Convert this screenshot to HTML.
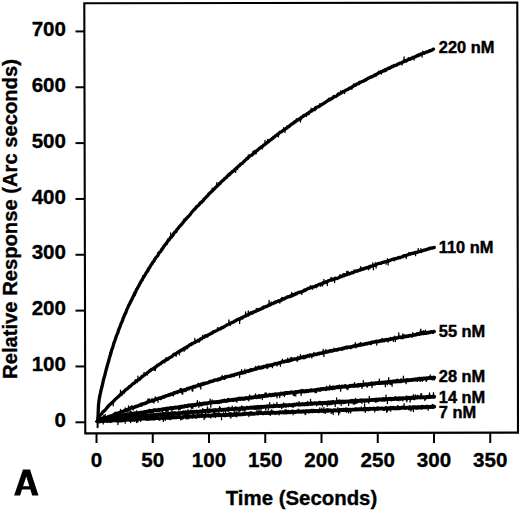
<!DOCTYPE html>
<html><head><meta charset="utf-8"><style>
html,body{margin:0;padding:0;background:#fff;width:520px;height:510px;overflow:hidden}
svg{display:block}
text{font-family:"Liberation Sans",sans-serif;font-weight:bold;fill:#000}
.tk{font-size:20.6px;stroke:#000;stroke-width:0.35px}
.cl{font-size:16.4px;stroke:#000;stroke-width:0.45px}
.ax{font-size:20.4px;stroke:#000;stroke-width:0.35px}
.ay{font-size:20.2px;stroke:#000;stroke-width:0.35px}
</style></head><body>
<svg width="520" height="510" viewBox="0 0 520 510"><rect width="520" height="510" fill="#fff"/><path d="M84.3,3.3L517.3,2.6L518,432.6L85.3,433.4Z" fill="none" stroke="#000" stroke-width="2.1" stroke-linejoin="miter"/><line x1="75.5" y1="422.30" x2="85" y2="422.30" stroke="#000" stroke-width="2"/><text x="66" y="426.90" text-anchor="end" class="tk">0</text><line x1="75.5" y1="366.46" x2="85" y2="366.46" stroke="#000" stroke-width="2"/><text x="66" y="371.06" text-anchor="end" class="tk">100</text><line x1="75.5" y1="310.62" x2="85" y2="310.62" stroke="#000" stroke-width="2"/><text x="66" y="315.22" text-anchor="end" class="tk">200</text><line x1="75.5" y1="254.78" x2="85" y2="254.78" stroke="#000" stroke-width="2"/><text x="66" y="259.38" text-anchor="end" class="tk">300</text><line x1="75.5" y1="198.94" x2="85" y2="198.94" stroke="#000" stroke-width="2"/><text x="66" y="203.54" text-anchor="end" class="tk">400</text><line x1="75.5" y1="143.10" x2="85" y2="143.10" stroke="#000" stroke-width="2"/><text x="66" y="147.70" text-anchor="end" class="tk">500</text><line x1="75.5" y1="87.26" x2="85" y2="87.26" stroke="#000" stroke-width="2"/><text x="66" y="91.86" text-anchor="end" class="tk">600</text><line x1="75.5" y1="31.42" x2="85" y2="31.42" stroke="#000" stroke-width="2"/><text x="66" y="36.02" text-anchor="end" class="tk">700</text><line x1="96.50" y1="433" x2="96.50" y2="443" stroke="#000" stroke-width="2"/><text x="96.50" y="466.5" text-anchor="middle" class="tk">0</text><line x1="152.75" y1="433" x2="152.75" y2="443" stroke="#000" stroke-width="2"/><text x="152.75" y="466.5" text-anchor="middle" class="tk">50</text><line x1="209.00" y1="433" x2="209.00" y2="443" stroke="#000" stroke-width="2"/><text x="209.00" y="466.5" text-anchor="middle" class="tk">100</text><line x1="265.25" y1="433" x2="265.25" y2="443" stroke="#000" stroke-width="2"/><text x="265.25" y="466.5" text-anchor="middle" class="tk">150</text><line x1="321.50" y1="433" x2="321.50" y2="443" stroke="#000" stroke-width="2"/><text x="321.50" y="466.5" text-anchor="middle" class="tk">200</text><line x1="377.75" y1="433" x2="377.75" y2="443" stroke="#000" stroke-width="2"/><text x="377.75" y="466.5" text-anchor="middle" class="tk">250</text><line x1="434.00" y1="433" x2="434.00" y2="443" stroke="#000" stroke-width="2"/><text x="434.00" y="466.5" text-anchor="middle" class="tk">300</text><line x1="490.25" y1="433" x2="490.25" y2="443" stroke="#000" stroke-width="2"/><text x="490.25" y="466.5" text-anchor="middle" class="tk">350</text><path d="M97.8,421.3 L98.5,404.9 L99.1,399.7 L99.8,395.9 L100.5,392.9 L101.1,389.9 L101.8,387.3 L102.5,384.3 L103.1,381.7 L103.8,378.4 L104.5,376.6 L105.2,373.6 L105.8,371.2 L106.5,368.5 L107.2,366.0 L107.8,363.8 L108.5,361.5 L109.2,358.9 L109.8,356.6 L110.5,354.6 L111.2,352.0 L111.8,349.7 L112.5,348.1 L113.2,345.7 L113.8,343.4 L114.5,341.6 L115.2,339.7 L115.9,337.6 L116.5,335.6 L117.2,334.1 L117.9,332.5 L118.5,330.4 L119.2,328.4 L119.9,327.0 L120.5,325.3 L121.2,323.3 L121.9,321.9 L122.5,320.3 L123.2,318.4 L123.9,316.6 L124.5,315.3 L125.2,313.7 L125.9,312.4 L126.6,310.2 L127.2,308.9 L127.9,307.4 L128.6,305.7 L129.2,304.7 L129.9,303.3 L130.6,301.6 L131.2,300.8 L131.9,299.2 L132.6,297.8 L133.2,296.4 L133.9,295.2 L134.6,293.3 L135.2,292.5 L135.9,291.2 L136.6,289.4 L137.3,288.6 L137.9,287.2 L138.6,286.3 L139.3,284.7 L139.9,283.6 L140.6,282.5 L141.3,281.0 L141.9,280.2 L142.6,278.9 L143.3,277.9 L143.9,276.5 L144.6,275.8 L145.3,274.5 L145.9,273.2 L146.6,272.3 L147.3,271.4 L148.0,270.5 L148.6,268.6 L149.3,268.1 L150.0,266.9 L150.6,265.8 L151.3,264.5 L152.0,264.0 L152.6,262.4 L153.3,261.8 L154.0,261.0 L154.6,259.3 L155.3,258.6 L156.0,257.4 L156.6,256.8 L157.3,256.1 L158.0,255.3 L158.7,253.4 L159.3,252.7 L160.0,252.1 L160.7,251.4 L161.3,250.2 L162.0,249.0 L162.7,248.3 L163.3,247.3 L164.0,246.3 L164.7,245.3 L165.3,244.7 L166.0,243.8 L166.7,242.8 L167.3,241.9 L168.0,240.7 L168.7,240.1 L169.4,239.6 L170.0,238.4 L170.7,237.2 L171.4,237.1 L172.0,236.0 L172.7,235.6 L173.4,234.2 L174.0,233.2 L174.7,232.1 L175.4,232.0 L176.0,231.5 L176.7,229.8 L177.4,229.1 L178.0,228.5 L178.7,227.4 L179.4,226.7 L180.1,225.9 L180.7,225.2 L181.4,224.7 L182.1,223.6 L182.7,223.0 L183.4,221.9 L184.1,221.3 L184.7,219.9 L185.4,219.3 L186.1,219.1 L186.7,218.0 L187.4,217.5 L188.1,216.7 L188.7,216.2 L189.4,215.3 L190.1,214.6 L190.8,213.6 L191.4,212.7 L192.1,211.9 L192.8,211.2 L193.4,210.3 L194.1,209.7 L194.8,209.1 L195.4,208.5 L196.1,207.6 L196.8,206.5 L197.4,206.2 L198.1,205.6 L198.8,205.1 L199.4,204.2 L200.1,203.2 L200.8,202.5 L201.5,202.5 L202.1,201.4 L202.8,201.0 L203.5,200.4 L204.1,199.0 L204.8,198.6 L205.5,197.9 L206.1,197.2 L206.8,196.5 L207.5,195.8 L208.1,195.1 L208.8,194.0 L209.5,193.6 L210.1,192.8 L210.8,192.4 L211.5,191.5 L212.2,191.1 L212.8,190.5 L213.5,189.7 L214.2,189.1 L214.8,188.3 L215.5,187.6 L216.2,187.0 L216.8,186.2 L217.5,185.8 L218.2,185.1 L218.8,184.6 L219.5,183.4 L220.2,183.3 L220.8,182.3 L221.5,181.7 L222.2,181.1 L222.9,180.4 L223.5,180.0 L224.2,179.2 L224.9,178.4 L225.5,177.8 L226.2,177.7 L226.9,176.8 L227.5,175.9 L228.2,175.5 L228.9,174.5 L229.5,174.8 L230.2,173.3 L230.9,173.2 L231.5,172.6 L232.2,171.5 L232.9,171.3 L233.6,170.9 L234.2,170.2 L234.9,169.5 L235.6,169.1 L236.2,168.3 L236.9,167.7 L237.6,167.0 L238.2,166.6 L238.9,165.6 L239.6,165.5 L240.2,164.6 L240.9,163.8 L241.6,163.6 L242.2,163.4 L242.9,162.6 L243.6,161.7 L244.3,161.4 L244.9,160.5 L245.6,160.0 L246.3,159.5 L246.9,158.3 L247.6,158.4 L248.3,157.5 L248.9,157.0 L249.6,156.3 L250.3,155.7 L250.9,155.3 L251.6,155.2 L252.3,154.8 L252.9,153.8 L253.6,153.6 L254.3,152.7 L255.0,151.7 L255.6,151.7 L256.3,151.2 L257.0,150.4 L257.6,150.1 L258.3,149.6 L259.0,148.7 L259.6,148.0 L260.3,147.8 L261.0,147.3 L261.6,146.7 L262.3,146.5 L263.0,146.1 L263.6,145.1 L264.3,144.8 L265.0,144.4 L265.6,143.8 L266.3,143.3 L267.0,142.5 L267.7,142.2 L268.3,142.0 L269.0,141.2 L269.7,140.3 L270.3,140.1 L271.0,139.8 L271.7,139.0 L272.3,138.3 L273.0,138.3 L273.7,137.1 L274.3,137.0 L275.0,136.4 L275.7,135.6 L276.3,135.7 L277.0,135.0 L277.7,134.1 L278.4,134.0 L279.0,133.3 L279.7,132.4 L280.4,132.2 L281.0,132.0 L281.7,131.6 L282.4,131.0 L283.0,130.5 L283.7,130.1 L284.4,129.4 L285.0,129.3 L285.7,128.5 L286.4,128.1 L287.0,127.7 L287.7,126.8 L288.4,126.4 L289.1,126.5 L289.7,125.7 L290.4,125.1 L291.1,124.8 L291.7,124.1 L292.4,123.8 L293.1,123.1 L293.7,122.9 L294.4,122.0 L295.1,122.2 L295.7,121.3 L296.4,120.6 L297.1,120.5 L297.7,120.0 L298.4,119.6 L299.1,118.9 L299.8,118.8 L300.4,119.1 L301.1,117.5 L301.8,117.4 L302.4,116.8 L303.1,116.5 L303.8,115.5 L304.4,115.3 L305.1,115.2 L305.8,114.6 L306.4,114.6 L307.1,113.6 L307.8,113.4 L308.4,113.6 L309.1,112.3 L309.8,111.8 L310.5,111.6 L311.1,111.1 L311.8,110.9 L312.5,110.3 L313.1,109.7 L313.8,109.5 L314.5,109.7 L315.1,108.9 L315.8,107.5 L316.5,107.7 L317.1,107.1 L317.8,107.0 L318.5,106.4 L319.1,106.5 L319.8,105.9 L320.5,105.4 L321.2,104.8 L321.8,104.4 L322.5,104.1 L323.2,103.9 L323.8,103.3 L324.5,102.7 L325.2,102.7 L325.8,102.0 L326.5,101.5 L327.2,100.9 L327.8,100.6 L328.5,100.2 L329.2,99.2 L329.8,99.8 L330.5,99.3 L331.2,98.7 L331.9,98.6 L332.5,98.0 L333.2,97.6 L333.9,96.5 L334.5,96.7 L335.2,96.5 L335.9,96.4 L336.5,96.0 L337.2,95.5 L337.9,94.5 L338.5,93.9 L339.2,94.2 L339.9,93.6 L340.5,93.5 L341.2,92.8 L341.9,92.6 L342.6,91.7 L343.2,91.9 L343.9,91.3 L344.6,91.1 L345.2,90.7 L345.9,90.2 L346.6,89.9 L347.2,89.5 L347.9,89.3 L348.6,88.9 L349.2,88.2 L349.9,87.9 L350.6,88.1 L351.2,87.3 L351.9,87.2 L352.6,86.7 L353.3,86.1 L353.9,85.6 L354.6,85.5 L355.3,85.2 L355.9,84.9 L356.6,84.1 L357.3,83.9 L357.9,83.7 L358.6,83.7 L359.3,82.4 L359.9,82.7 L360.6,82.1 L361.3,82.0 L361.9,81.5 L362.6,81.3 L363.3,81.3 L364.0,80.6 L364.6,80.3 L365.3,79.9 L366.0,79.3 L366.6,79.3 L367.3,78.8 L368.0,78.3 L368.6,78.1 L369.3,77.7 L370.0,77.7 L370.6,77.1 L371.3,76.7 L372.0,76.8 L372.6,76.4 L373.3,76.1 L374.0,75.6 L374.7,75.1 L375.3,74.7 L376.0,74.4 L376.7,74.4 L377.3,73.8 L378.0,73.1 L378.7,73.1 L379.3,72.5 L380.0,72.6 L380.7,71.9 L381.3,71.6 L382.0,71.6 L382.7,71.2 L383.3,70.5 L384.0,70.8 L384.7,70.8 L385.4,69.6 L386.0,70.1 L386.7,69.2 L387.4,68.9 L388.0,68.7 L388.7,68.0 L389.4,68.4 L390.0,67.9 L390.7,67.3 L391.4,67.1 L392.0,66.5 L392.7,66.4 L393.4,66.5 L394.0,65.5 L394.7,65.5 L395.4,65.4 L396.1,65.3 L396.7,65.1 L397.4,64.3 L398.1,63.9 L398.7,63.9 L399.4,63.4 L400.1,63.1 L400.7,63.2 L401.4,63.0 L402.1,62.4 L402.7,62.0 L403.4,61.9 L404.1,61.0 L404.7,61.2 L405.4,60.6 L406.1,61.2 L406.8,60.5 L407.4,60.0 L408.1,59.7 L408.8,58.8 L409.4,59.3 L410.1,59.3 L410.8,58.4 L411.4,58.5 L412.1,58.2 L412.8,57.3 L413.4,57.7 L414.1,57.5 L414.8,56.9 L415.4,56.6 L416.1,56.5 L416.8,55.7 L417.5,55.8 L418.1,55.8 L418.8,54.9 L419.5,55.2 L420.1,54.6 L420.8,53.9 L421.5,54.1 L422.1,53.6 L422.8,53.7 L423.5,53.0 L424.1,53.3 L424.8,52.6 L425.5,52.6 L426.1,52.1 L426.8,51.9 L427.5,52.0 L428.2,51.5 L428.8,51.1 L429.5,50.6 L430.2,51.0 L430.8,50.6 L431.5,50.1 L432.2,50.0 L432.8,49.4 L433.5,49.1" fill="none" stroke="#000" stroke-width="3.3" stroke-linejoin="round" stroke-linecap="round"/><path d="M97.8,421.3 L98.5,416.9 L99.1,416.4 L99.8,415.5 L100.5,414.7 L101.1,414.1 L101.8,413.7 L102.5,412.4 L103.2,411.6 L103.8,411.3 L104.5,410.5 L105.2,410.1 L105.8,409.2 L106.5,408.3 L107.2,407.5 L107.8,406.9 L108.5,406.1 L109.2,405.1 L109.8,404.8 L110.5,404.1 L111.2,403.4 L111.8,402.7 L112.5,402.5 L113.2,401.6 L113.9,401.0 L114.5,400.0 L115.2,399.3 L115.9,398.8 L116.5,398.3 L117.2,397.5 L117.9,396.9 L118.5,396.6 L119.2,395.8 L119.9,394.9 L120.5,394.4 L121.2,393.8 L121.9,393.4 L122.6,392.4 L123.2,392.1 L123.9,391.7 L124.6,391.0 L125.2,390.2 L125.9,389.7 L126.6,389.3 L127.2,388.8 L127.9,388.3 L128.6,387.5 L129.2,386.6 L129.9,386.8 L130.6,385.9 L131.2,385.4 L131.9,384.8 L132.6,383.9 L133.3,383.6 L133.9,383.2 L134.6,382.8 L135.3,382.1 L135.9,380.7 L136.6,380.9 L137.3,380.5 L137.9,380.3 L138.6,379.6 L139.3,379.5 L139.9,378.7 L140.6,378.2 L141.3,377.6 L142.0,376.5 L142.6,376.5 L143.3,376.0 L144.0,375.2 L144.6,375.0 L145.3,374.4 L146.0,373.7 L146.6,373.3 L147.3,372.8 L148.0,372.4 L148.6,371.8 L149.3,371.5 L150.0,370.4 L150.6,370.4 L151.3,369.5 L152.0,369.4 L152.7,369.1 L153.3,368.5 L154.0,368.0 L154.7,367.6 L155.3,367.5 L156.0,366.4 L156.7,366.4 L157.3,365.4 L158.0,365.2 L158.7,364.9 L159.3,364.2 L160.0,364.0 L160.7,363.7 L161.4,362.7 L162.0,362.6 L162.7,362.0 L163.4,361.2 L164.0,361.2 L164.7,360.6 L165.4,360.7 L166.0,359.7 L166.7,359.9 L167.4,358.9 L168.0,359.1 L168.7,358.3 L169.4,357.9 L170.1,357.5 L170.7,357.1 L171.4,356.8 L172.1,356.5 L172.7,355.5 L173.4,354.9 L174.1,354.1 L174.7,354.3 L175.4,354.1 L176.1,353.6 L176.7,353.2 L177.4,352.6 L178.1,352.1 L178.7,351.8 L179.4,351.6 L180.1,350.6 L180.8,350.8 L181.4,349.9 L182.1,349.8 L182.8,349.3 L183.4,349.0 L184.1,348.4 L184.8,348.0 L185.4,347.8 L186.1,347.2 L186.8,347.7 L187.4,346.6 L188.1,346.1 L188.8,345.7 L189.5,345.2 L190.1,344.5 L190.8,344.6 L191.5,344.4 L192.1,343.5 L192.8,343.5 L193.5,342.9 L194.1,342.8 L194.8,342.5 L195.5,342.1 L196.1,341.7 L196.8,341.1 L197.5,341.1 L198.1,340.4 L198.8,340.2 L199.5,339.9 L200.2,339.3 L200.8,338.7 L201.5,338.8 L202.2,338.0 L202.8,337.6 L203.5,337.2 L204.2,337.3 L204.8,336.7 L205.5,335.8 L206.2,336.2 L206.8,336.2 L207.5,335.8 L208.2,334.8 L208.9,334.6 L209.5,334.3 L210.2,334.1 L210.9,333.5 L211.5,332.9 L212.2,333.0 L212.9,332.6 L213.5,331.7 L214.2,331.6 L214.9,331.4 L215.5,331.0 L216.2,330.8 L216.9,330.5 L217.5,330.1 L218.2,329.6 L218.9,328.9 L219.6,329.1 L220.2,328.9 L220.9,328.7 L221.6,327.8 L222.2,327.5 L222.9,327.5 L223.6,327.2 L224.2,326.6 L224.9,326.3 L225.6,325.6 L226.2,325.6 L226.9,324.9 L227.6,324.7 L228.3,324.4 L228.9,324.0 L229.6,323.2 L230.3,323.2 L230.9,323.2 L231.6,322.7 L232.3,322.3 L232.9,322.2 L233.6,321.9 L234.3,321.6 L234.9,320.9 L235.6,320.8 L236.3,320.4 L236.9,319.9 L237.6,319.4 L238.3,319.4 L239.0,318.9 L239.6,319.3 L240.3,318.5 L241.0,318.1 L241.6,317.7 L242.3,318.0 L243.0,317.0 L243.6,316.8 L244.3,316.4 L245.0,316.2 L245.6,315.9 L246.3,315.9 L247.0,314.9 L247.7,315.0 L248.3,315.0 L249.0,314.2 L249.7,314.0 L250.3,313.5 L251.0,312.7 L251.7,313.0 L252.3,313.1 L253.0,312.3 L253.7,311.7 L254.3,311.9 L255.0,311.5 L255.7,311.5 L256.3,311.1 L257.0,310.5 L257.7,310.4 L258.4,309.5 L259.0,309.9 L259.7,309.4 L260.4,309.3 L261.0,309.0 L261.7,308.4 L262.4,308.1 L263.0,307.6 L263.7,307.0 L264.4,307.2 L265.0,307.0 L265.7,306.4 L266.4,306.5 L267.1,306.1 L267.7,305.9 L268.4,305.3 L269.1,304.7 L269.7,305.1 L270.4,304.7 L271.1,304.2 L271.7,303.9 L272.4,303.6 L273.1,303.4 L273.7,303.0 L274.4,302.3 L275.1,302.7 L275.8,301.9 L276.4,301.9 L277.1,301.6 L277.8,301.4 L278.4,300.7 L279.1,301.1 L279.8,300.7 L280.4,300.4 L281.1,300.2 L281.8,299.4 L282.4,298.6 L283.1,299.2 L283.8,299.1 L284.4,298.8 L285.1,298.1 L285.8,297.9 L286.5,297.7 L287.1,296.9 L287.8,296.9 L288.5,296.7 L289.1,296.9 L289.8,296.1 L290.5,296.4 L291.1,295.7 L291.8,295.0 L292.5,295.7 L293.1,294.6 L293.8,294.8 L294.5,294.8 L295.2,293.9 L295.8,293.5 L296.5,293.8 L297.2,293.3 L297.8,292.7 L298.5,292.4 L299.2,292.3 L299.8,292.4 L300.5,291.8 L301.2,291.8 L301.8,291.8 L302.5,291.4 L303.2,291.2 L303.8,290.9 L304.5,289.9 L305.2,290.3 L305.9,289.8 L306.5,289.5 L307.2,289.0 L307.9,288.6 L308.5,288.4 L309.2,288.4 L309.9,287.9 L310.5,287.7 L311.2,287.5 L311.9,287.6 L312.5,287.1 L313.2,286.8 L313.9,287.0 L314.6,286.3 L315.2,286.3 L315.9,285.6 L316.6,285.7 L317.2,285.4 L317.9,285.1 L318.6,284.7 L319.2,284.3 L319.9,284.2 L320.6,283.9 L321.2,284.1 L321.9,283.8 L322.6,283.0 L323.2,283.2 L323.9,282.7 L324.6,282.7 L325.3,282.2 L325.9,281.7 L326.6,282.1 L327.3,281.7 L327.9,281.0 L328.6,280.6 L329.3,280.7 L329.9,280.3 L330.6,280.2 L331.3,280.2 L331.9,280.2 L332.6,279.5 L333.3,279.7 L334.0,279.4 L334.6,278.7 L335.3,278.2 L336.0,278.6 L336.6,278.3 L337.3,278.5 L338.0,278.0 L338.6,277.6 L339.3,277.6 L340.0,276.7 L340.6,276.7 L341.3,276.4 L342.0,276.6 L342.6,276.1 L343.3,275.0 L344.0,275.8 L344.7,275.0 L345.3,275.2 L346.0,274.7 L346.7,274.6 L347.3,274.5 L348.0,274.1 L348.7,273.6 L349.3,274.0 L350.0,273.5 L350.7,273.1 L351.3,273.1 L352.0,272.5 L352.7,272.9 L353.4,272.3 L354.0,272.1 L354.7,271.8 L355.4,271.3 L356.0,271.0 L356.7,271.1 L357.4,270.9 L358.0,271.0 L358.7,270.5 L359.4,269.9 L360.0,270.1 L360.7,269.9 L361.4,269.7 L362.0,269.3 L362.7,268.7 L363.4,269.1 L364.1,268.4 L364.7,268.5 L365.4,267.8 L366.1,268.1 L366.7,267.5 L367.4,267.8 L368.1,267.7 L368.7,267.3 L369.4,266.5 L370.1,266.4 L370.7,266.2 L371.4,266.3 L372.1,266.0 L372.8,265.8 L373.4,265.6 L374.1,265.4 L374.8,265.2 L375.4,265.3 L376.1,264.6 L376.8,264.5 L377.4,263.8 L378.1,263.7 L378.8,263.6 L379.4,263.3 L380.1,263.4 L380.8,263.4 L381.5,262.8 L382.1,262.6 L382.8,262.4 L383.5,262.3 L384.1,262.0 L384.8,262.0 L385.5,261.7 L386.1,261.5 L386.8,261.4 L387.5,261.1 L388.1,260.9 L388.8,261.1 L389.5,260.4 L390.1,260.4 L390.8,260.0 L391.5,259.7 L392.2,259.5 L392.8,259.2 L393.5,259.2 L394.2,258.8 L394.8,258.7 L395.5,258.9 L396.2,258.3 L396.8,258.5 L397.5,258.0 L398.2,258.0 L398.8,257.4 L399.5,257.4 L400.2,257.8 L400.9,257.2 L401.5,257.0 L402.2,256.6 L402.9,256.6 L403.5,255.9 L404.2,255.7 L404.9,255.9 L405.5,255.8 L406.2,255.3 L406.9,255.1 L407.5,254.9 L408.2,254.7 L408.9,254.3 L409.5,254.0 L410.2,254.2 L410.9,253.6 L411.6,253.6 L412.2,253.4 L412.9,253.1 L413.6,253.3 L414.2,252.9 L414.9,252.8 L415.6,252.4 L416.2,252.3 L416.9,252.4 L417.6,252.2 L418.2,251.8 L418.9,251.8 L419.6,251.5 L420.3,251.3 L420.9,251.5 L421.6,250.8 L422.3,250.8 L422.9,250.7 L423.6,250.3 L424.3,249.9 L424.9,250.2 L425.6,249.9 L426.3,249.6 L426.9,249.4 L427.6,249.2 L428.3,248.8 L428.9,248.9 L429.6,248.2 L430.3,248.5 L431.0,247.9 L431.6,248.0 L432.3,248.1 L433.0,247.7 L433.6,247.5 L434.3,247.5" fill="none" stroke="#000" stroke-width="3.3" stroke-linejoin="round" stroke-linecap="round"/><path d="M97.8,421.3 L98.5,421.1 L99.1,420.9 L99.8,420.4 L100.5,420.2 L101.1,420.2 L101.8,419.2 L102.5,419.5 L103.2,420.0 L103.8,418.4 L104.5,419.0 L105.2,417.9 L105.8,418.2 L106.5,418.2 L107.2,417.9 L107.8,417.1 L108.5,416.7 L109.2,416.4 L109.8,416.7 L110.5,416.1 L111.2,416.0 L111.8,415.8 L112.5,415.5 L113.2,415.3 L113.9,414.9 L114.5,414.2 L115.2,414.7 L115.9,413.4 L116.5,414.2 L117.2,413.5 L117.9,413.3 L118.5,413.0 L119.2,412.7 L119.9,412.6 L120.5,412.2 L121.2,411.8 L121.9,412.0 L122.5,411.4 L123.2,411.6 L123.9,411.0 L124.6,410.6 L125.2,410.6 L125.9,410.5 L126.6,409.8 L127.2,409.7 L127.9,409.9 L128.6,409.0 L129.2,408.8 L129.9,408.8 L130.6,408.2 L131.2,407.6 L131.9,407.6 L132.6,407.9 L133.2,407.7 L133.9,407.4 L134.6,407.1 L135.3,406.5 L135.9,406.7 L136.6,406.6 L137.3,405.9 L137.9,406.0 L138.6,405.5 L139.3,405.4 L139.9,405.2 L140.6,404.5 L141.3,404.9 L141.9,404.1 L142.6,404.1 L143.3,403.7 L143.9,403.7 L144.6,403.5 L145.3,403.1 L146.0,403.2 L146.6,402.7 L147.3,402.3 L148.0,401.5 L148.6,401.9 L149.3,401.6 L150.0,401.2 L150.6,401.0 L151.3,401.1 L152.0,401.0 L152.6,401.0 L153.3,400.6 L154.0,399.9 L154.6,399.9 L155.3,399.2 L156.0,399.5 L156.7,399.2 L157.3,398.7 L158.0,398.6 L158.7,398.4 L159.3,398.0 L160.0,398.3 L160.7,398.5 L161.3,397.7 L162.0,397.5 L162.7,397.1 L163.3,396.7 L164.0,397.1 L164.7,396.3 L165.3,396.2 L166.0,395.9 L166.7,395.8 L167.4,395.4 L168.0,395.4 L168.7,394.7 L169.4,394.8 L170.0,394.9 L170.7,394.1 L171.4,393.9 L172.0,394.2 L172.7,393.8 L173.4,393.7 L174.0,392.7 L174.7,393.0 L175.4,392.5 L176.0,392.2 L176.7,392.4 L177.4,392.4 L178.1,391.5 L178.7,391.4 L179.4,391.3 L180.1,391.2 L180.7,390.7 L181.4,391.4 L182.1,390.7 L182.7,390.3 L183.4,390.0 L184.1,390.5 L184.7,390.3 L185.4,389.4 L186.1,389.4 L186.7,389.4 L187.4,388.6 L188.1,388.5 L188.8,388.8 L189.4,388.1 L190.1,387.9 L190.8,387.5 L191.4,387.4 L192.1,387.6 L192.8,387.0 L193.4,386.6 L194.1,386.6 L194.8,387.0 L195.4,386.4 L196.1,386.0 L196.8,385.9 L197.4,385.8 L198.1,385.5 L198.8,384.8 L199.5,385.2 L200.1,384.8 L200.8,384.9 L201.5,384.1 L202.1,384.5 L202.8,383.9 L203.5,383.4 L204.1,384.0 L204.8,383.3 L205.5,383.3 L206.1,383.0 L206.8,383.1 L207.5,382.9 L208.1,382.7 L208.8,382.4 L209.5,381.6 L210.2,381.4 L210.8,381.7 L211.5,381.2 L212.2,381.3 L212.8,381.1 L213.5,380.5 L214.2,380.4 L214.8,380.1 L215.5,380.0 L216.2,380.0 L216.8,380.0 L217.5,380.0 L218.2,379.2 L218.9,379.1 L219.5,379.4 L220.2,379.1 L220.9,378.7 L221.5,377.9 L222.2,378.0 L222.9,378.1 L223.5,377.7 L224.2,378.2 L224.9,377.5 L225.5,377.4 L226.2,376.8 L226.9,376.6 L227.5,376.5 L228.2,376.4 L228.9,376.3 L229.6,376.2 L230.2,376.0 L230.9,376.0 L231.6,375.2 L232.2,375.4 L232.9,375.3 L233.6,375.4 L234.2,374.8 L234.9,374.7 L235.6,374.2 L236.2,374.4 L236.9,374.2 L237.6,373.7 L238.2,373.6 L238.9,373.5 L239.6,373.5 L240.3,372.9 L240.9,373.2 L241.6,372.7 L242.3,373.1 L242.9,372.8 L243.6,372.1 L244.3,371.9 L244.9,372.5 L245.6,371.8 L246.3,371.6 L246.9,371.2 L247.6,371.1 L248.3,371.2 L248.9,370.9 L249.6,370.4 L250.3,370.7 L251.0,370.3 L251.6,369.8 L252.3,370.1 L253.0,369.6 L253.6,369.7 L254.3,369.2 L255.0,369.2 L255.6,368.6 L256.3,368.9 L257.0,368.2 L257.6,368.5 L258.3,367.6 L259.0,368.1 L259.6,368.1 L260.3,367.9 L261.0,367.9 L261.7,367.1 L262.3,367.6 L263.0,367.5 L263.7,366.6 L264.3,366.5 L265.0,366.4 L265.7,366.4 L266.3,366.2 L267.0,365.4 L267.7,366.0 L268.3,365.6 L269.0,365.2 L269.7,365.6 L270.3,365.1 L271.0,365.3 L271.7,365.0 L272.4,364.6 L273.0,364.8 L273.7,364.5 L274.4,364.0 L275.0,363.6 L275.7,363.7 L276.4,363.8 L277.0,363.4 L277.7,363.7 L278.4,363.2 L279.0,363.0 L279.7,362.9 L280.4,362.4 L281.0,362.4 L281.7,362.1 L282.4,361.6 L283.1,361.5 L283.7,362.0 L284.4,361.5 L285.1,361.5 L285.7,361.0 L286.4,361.0 L287.1,361.2 L287.7,360.9 L288.4,360.5 L289.1,360.9 L289.7,360.3 L290.4,360.1 L291.1,360.3 L291.7,359.4 L292.4,359.8 L293.1,359.3 L293.8,359.2 L294.4,359.1 L295.1,359.1 L295.8,358.9 L296.4,358.8 L297.1,358.6 L297.8,358.8 L298.4,358.7 L299.1,358.3 L299.8,358.2 L300.4,357.7 L301.1,357.4 L301.8,357.6 L302.4,357.3 L303.1,357.4 L303.8,356.6 L304.5,357.5 L305.1,356.4 L305.8,356.6 L306.5,356.7 L307.1,355.9 L307.8,356.0 L308.5,355.4 L309.1,355.4 L309.8,355.1 L310.5,355.5 L311.1,355.4 L311.8,355.1 L312.5,355.3 L313.1,355.2 L313.8,354.7 L314.5,354.5 L315.2,354.4 L315.8,354.2 L316.5,354.5 L317.2,354.0 L317.8,353.7 L318.5,353.6 L319.2,353.7 L319.8,353.3 L320.5,353.3 L321.2,353.1 L321.8,353.3 L322.5,353.1 L323.2,352.3 L323.9,352.4 L324.5,352.5 L325.2,352.1 L325.9,352.3 L326.5,352.0 L327.2,351.9 L327.9,351.6 L328.5,351.5 L329.2,351.5 L329.9,350.8 L330.5,350.8 L331.2,350.6 L331.9,351.2 L332.5,350.7 L333.2,350.6 L333.9,350.4 L334.6,350.0 L335.2,349.8 L335.9,350.1 L336.6,349.7 L337.2,350.0 L337.9,349.5 L338.6,349.3 L339.2,349.1 L339.9,349.0 L340.6,348.9 L341.2,349.1 L341.9,349.2 L342.6,348.2 L343.2,348.4 L343.9,348.4 L344.6,347.8 L345.3,347.8 L345.9,347.7 L346.6,347.0 L347.3,347.7 L347.9,347.4 L348.6,347.2 L349.3,347.1 L349.9,347.0 L350.6,347.4 L351.3,346.7 L351.9,346.8 L352.6,346.3 L353.3,346.4 L353.9,346.1 L354.6,346.0 L355.3,345.6 L356.0,345.5 L356.6,345.7 L357.3,345.7 L358.0,345.4 L358.6,345.0 L359.3,345.1 L360.0,344.3 L360.6,345.0 L361.3,344.7 L362.0,344.6 L362.6,344.7 L363.3,344.2 L364.0,344.4 L364.6,343.9 L365.3,344.0 L366.0,343.6 L366.7,343.7 L367.3,343.8 L368.0,343.2 L368.7,343.1 L369.3,343.0 L370.0,343.0 L370.7,343.5 L371.3,342.6 L372.0,342.1 L372.7,342.3 L373.3,341.9 L374.0,342.1 L374.7,342.1 L375.3,341.7 L376.0,341.6 L376.7,341.2 L377.4,341.6 L378.0,341.2 L378.7,341.6 L379.4,341.4 L380.0,340.8 L380.7,340.8 L381.4,340.8 L382.0,340.9 L382.7,340.1 L383.4,340.4 L384.0,340.8 L384.7,340.1 L385.4,340.1 L386.0,339.9 L386.7,339.5 L387.4,339.9 L388.1,339.6 L388.7,339.5 L389.4,339.5 L390.1,339.4 L390.7,338.6 L391.4,339.1 L392.1,338.7 L392.7,338.7 L393.4,338.4 L394.1,338.2 L394.7,338.6 L395.4,338.2 L396.1,338.0 L396.7,337.9 L397.4,337.9 L398.1,337.7 L398.8,337.0 L399.4,337.3 L400.1,337.3 L400.8,337.4 L401.4,337.5 L402.1,336.8 L402.8,337.4 L403.4,336.8 L404.1,336.8 L404.8,336.4 L405.4,336.3 L406.1,336.7 L406.8,336.1 L407.4,336.1 L408.1,336.3 L408.8,336.3 L409.5,335.4 L410.1,335.6 L410.8,335.5 L411.5,335.8 L412.1,335.9 L412.8,335.1 L413.5,335.1 L414.1,335.1 L414.8,335.1 L415.5,334.6 L416.1,334.8 L416.8,334.3 L417.5,333.7 L418.1,333.9 L418.8,334.2 L419.5,334.2 L420.2,333.3 L420.8,333.3 L421.5,333.7 L422.2,332.7 L422.8,333.6 L423.5,333.6 L424.2,332.5 L424.8,333.3 L425.5,333.0 L426.2,333.3 L426.8,332.9 L427.5,332.6 L428.2,332.6 L428.8,332.7 L429.5,332.4 L430.2,332.2 L430.9,331.8 L431.5,332.1 L432.2,331.9 L432.9,332.3 L433.5,331.7 L434.2,331.6" fill="none" stroke="#000" stroke-width="3.5" stroke-linejoin="round" stroke-linecap="round"/><path d="M97.8,421.3 L98.5,420.0 L99.1,419.9 L99.8,419.5 L100.5,419.1 L101.1,418.5 L101.8,418.7 L102.5,418.6 L103.2,418.2 L103.8,417.8 L104.5,418.7 L105.2,418.3 L105.8,417.9 L106.5,418.3 L107.2,418.1 L107.8,417.8 L108.5,417.7 L109.2,417.7 L109.8,417.8 L110.5,417.3 L111.2,417.1 L111.8,417.2 L112.5,416.3 L113.2,416.9 L113.9,416.7 L114.5,416.7 L115.2,416.5 L115.9,416.5 L116.5,416.4 L117.2,416.3 L117.9,416.1 L118.5,416.2 L119.2,415.8 L119.9,416.1 L120.5,415.3 L121.2,415.7 L121.9,415.6 L122.5,415.1 L123.2,415.2 L123.9,415.5 L124.6,415.1 L125.2,414.8 L125.9,414.2 L126.6,414.9 L127.2,414.7 L127.9,414.8 L128.6,415.0 L129.2,414.4 L129.9,414.3 L130.6,414.0 L131.2,414.1 L131.9,414.0 L132.6,414.1 L133.2,413.9 L133.9,413.5 L134.6,413.5 L135.3,413.8 L135.9,413.1 L136.6,413.5 L137.3,413.6 L137.9,413.2 L138.6,413.0 L139.3,413.2 L139.9,412.9 L140.6,412.7 L141.3,412.5 L141.9,412.8 L142.6,412.6 L143.3,412.7 L143.9,412.1 L144.6,412.0 L145.3,411.9 L146.0,412.0 L146.6,411.6 L147.3,411.9 L148.0,411.7 L148.6,411.2 L149.3,410.7 L150.0,410.8 L150.6,411.6 L151.3,411.1 L152.0,411.0 L152.6,410.8 L153.3,410.9 L154.0,410.2 L154.6,410.1 L155.3,410.1 L156.0,410.4 L156.7,410.5 L157.3,410.3 L158.0,410.1 L158.7,409.7 L159.3,410.1 L160.0,409.8 L160.7,409.7 L161.3,409.6 L162.0,409.4 L162.7,409.3 L163.3,409.2 L164.0,408.9 L164.7,409.2 L165.3,409.0 L166.0,409.2 L166.7,408.4 L167.4,409.1 L168.0,408.7 L168.7,408.5 L169.4,408.3 L170.0,408.2 L170.7,407.9 L171.4,408.4 L172.0,408.0 L172.7,408.2 L173.4,408.1 L174.0,407.7 L174.7,407.7 L175.4,407.5 L176.0,407.8 L176.7,407.5 L177.4,407.4 L178.1,407.4 L178.7,407.1 L179.4,407.6 L180.1,406.7 L180.7,407.2 L181.4,407.1 L182.1,406.4 L182.7,406.8 L183.4,406.6 L184.1,406.6 L184.7,406.0 L185.4,406.3 L186.1,405.9 L186.7,406.0 L187.4,406.3 L188.1,405.8 L188.8,405.2 L189.4,405.3 L190.1,405.3 L190.8,405.7 L191.4,405.2 L192.1,404.9 L192.8,405.5 L193.4,405.2 L194.1,405.1 L194.8,404.7 L195.4,405.2 L196.1,404.7 L196.8,404.2 L197.4,404.3 L198.1,404.3 L198.8,404.3 L199.5,404.5 L200.1,404.0 L200.8,404.0 L201.5,404.6 L202.1,403.9 L202.8,403.7 L203.5,403.8 L204.1,403.3 L204.8,403.7 L205.5,403.7 L206.1,403.2 L206.8,403.5 L207.5,403.1 L208.1,403.2 L208.8,402.8 L209.5,402.7 L210.2,402.5 L210.8,402.8 L211.5,402.6 L212.2,402.5 L212.8,402.2 L213.5,402.1 L214.2,402.2 L214.8,402.3 L215.5,402.2 L216.2,401.9 L216.8,402.0 L217.5,402.3 L218.2,401.8 L218.9,402.2 L219.5,401.7 L220.2,401.8 L220.9,401.3 L221.5,401.6 L222.2,401.0 L222.9,401.2 L223.5,401.0 L224.2,400.5 L224.9,400.6 L225.5,401.1 L226.2,400.8 L226.9,401.0 L227.5,400.6 L228.2,399.7 L228.9,400.4 L229.6,400.1 L230.2,400.1 L230.9,400.0 L231.6,399.8 L232.2,399.7 L232.9,400.2 L233.6,399.9 L234.2,399.5 L234.9,399.5 L235.6,399.8 L236.2,399.5 L236.9,399.4 L237.6,399.0 L238.2,399.1 L238.9,398.8 L239.6,398.5 L240.3,399.1 L240.9,398.7 L241.6,398.6 L242.3,398.4 L242.9,398.8 L243.6,399.0 L244.3,398.6 L244.9,398.6 L245.6,397.9 L246.3,398.2 L246.9,398.1 L247.6,398.4 L248.3,397.9 L248.9,397.6 L249.6,397.7 L250.3,397.5 L251.0,397.9 L251.6,397.6 L252.3,397.5 L253.0,397.4 L253.6,397.4 L254.3,397.0 L255.0,396.8 L255.6,396.5 L256.3,397.2 L257.0,396.9 L257.6,396.9 L258.3,396.7 L259.0,397.0 L259.6,396.2 L260.3,396.7 L261.0,396.1 L261.7,396.1 L262.3,395.8 L263.0,396.1 L263.7,395.9 L264.3,396.0 L265.0,395.7 L265.7,395.4 L266.3,395.8 L267.0,395.9 L267.7,395.7 L268.3,395.4 L269.0,395.4 L269.7,394.8 L270.3,395.1 L271.0,395.4 L271.7,395.1 L272.4,394.7 L273.0,395.1 L273.7,394.7 L274.4,394.9 L275.0,394.2 L275.7,394.4 L276.4,394.5 L277.0,394.4 L277.7,394.4 L278.4,394.2 L279.0,394.1 L279.7,394.2 L280.4,394.2 L281.0,393.5 L281.7,393.7 L282.4,393.7 L283.1,393.7 L283.7,393.8 L284.4,393.1 L285.1,393.5 L285.7,392.9 L286.4,393.1 L287.1,393.0 L287.7,393.0 L288.4,392.8 L289.1,392.8 L289.7,392.8 L290.4,392.7 L291.1,392.2 L291.7,392.3 L292.4,392.4 L293.1,392.6 L293.8,392.6 L294.4,393.0 L295.1,392.2 L295.8,391.9 L296.4,392.1 L297.1,392.2 L297.8,391.9 L298.4,391.6 L299.1,391.7 L299.8,391.7 L300.4,391.2 L301.1,391.2 L301.8,391.7 L302.4,390.8 L303.1,391.3 L303.8,391.1 L304.5,391.5 L305.1,391.2 L305.8,390.8 L306.5,391.2 L307.1,390.7 L307.8,391.2 L308.5,391.1 L309.1,390.6 L309.8,390.7 L310.5,390.5 L311.1,390.1 L311.8,390.6 L312.5,390.3 L313.1,390.4 L313.8,390.3 L314.5,390.3 L315.2,390.2 L315.8,389.8 L316.5,389.8 L317.2,389.8 L317.8,389.6 L318.5,389.5 L319.2,389.9 L319.8,389.5 L320.5,389.8 L321.2,389.0 L321.8,389.2 L322.5,389.0 L323.2,388.9 L323.9,388.9 L324.5,388.8 L325.2,388.7 L325.9,389.2 L326.5,388.8 L327.2,388.4 L327.9,388.4 L328.5,388.6 L329.2,388.5 L329.9,388.1 L330.5,388.4 L331.2,387.8 L331.9,387.9 L332.5,388.4 L333.2,387.3 L333.9,387.8 L334.6,388.0 L335.2,387.6 L335.9,387.4 L336.6,387.3 L337.2,386.9 L337.9,387.1 L338.6,387.3 L339.2,387.1 L339.9,387.2 L340.6,387.1 L341.2,387.1 L341.9,386.5 L342.6,386.8 L343.2,386.7 L343.9,386.7 L344.6,386.4 L345.3,386.0 L345.9,386.7 L346.6,386.6 L347.3,387.0 L347.9,386.5 L348.6,386.6 L349.3,386.3 L349.9,386.0 L350.6,386.1 L351.3,385.7 L351.9,385.9 L352.6,385.8 L353.3,385.5 L353.9,386.0 L354.6,385.9 L355.3,385.6 L356.0,385.6 L356.6,385.8 L357.3,385.3 L358.0,384.9 L358.6,384.9 L359.3,385.3 L360.0,385.1 L360.6,384.6 L361.3,385.2 L362.0,384.9 L362.6,385.1 L363.3,385.0 L364.0,384.5 L364.6,384.6 L365.3,384.3 L366.0,384.2 L366.7,384.2 L367.3,384.4 L368.0,384.5 L368.7,383.9 L369.3,384.2 L370.0,384.0 L370.7,383.9 L371.3,384.1 L372.0,383.7 L372.7,384.0 L373.3,383.6 L374.0,383.3 L374.7,383.7 L375.3,383.1 L376.0,383.1 L376.7,383.2 L377.4,383.2 L378.0,383.1 L378.7,382.6 L379.4,382.7 L380.0,383.1 L380.7,383.0 L381.4,382.6 L382.0,382.8 L382.7,382.7 L383.4,382.9 L384.0,382.4 L384.7,382.8 L385.4,382.3 L386.0,382.7 L386.7,382.5 L387.4,382.0 L388.1,382.1 L388.7,382.1 L389.4,382.3 L390.1,381.6 L390.7,381.7 L391.4,382.0 L392.1,381.9 L392.7,381.4 L393.4,381.4 L394.1,381.6 L394.7,381.2 L395.4,381.5 L396.1,381.6 L396.7,381.3 L397.4,380.5 L398.1,381.4 L398.8,381.4 L399.4,381.4 L400.1,381.2 L400.8,380.5 L401.4,381.2 L402.1,380.8 L402.8,380.9 L403.4,380.6 L404.1,380.5 L404.8,380.4 L405.4,380.8 L406.1,380.4 L406.8,380.2 L407.4,379.9 L408.1,380.3 L408.8,380.1 L409.5,380.1 L410.1,380.2 L410.8,380.1 L411.5,379.8 L412.1,379.8 L412.8,379.7 L413.5,379.8 L414.1,379.7 L414.8,379.5 L415.5,379.2 L416.1,379.6 L416.8,379.5 L417.5,379.0 L418.1,379.3 L418.8,379.0 L419.5,378.5 L420.2,379.0 L420.8,379.2 L421.5,378.7 L422.2,378.6 L422.8,379.0 L423.5,378.4 L424.2,378.4 L424.8,378.5 L425.5,378.6 L426.2,378.6 L426.8,378.2 L427.5,378.2 L428.2,378.2 L428.8,378.1 L429.5,377.9 L430.2,377.8 L430.9,378.1 L431.5,377.8 L432.2,378.6 L432.9,377.9 L433.5,377.5 L434.2,377.7" fill="none" stroke="#000" stroke-width="3.8" stroke-linejoin="round" stroke-linecap="round"/><path d="M97.8,421.3 L98.5,420.4 L99.1,419.8 L99.8,419.9 L100.5,420.0 L101.1,419.9 L101.8,419.4 L102.5,419.9 L103.2,419.8 L103.8,419.6 L104.5,419.2 L105.2,419.0 L105.8,419.4 L106.5,419.0 L107.2,418.9 L107.8,419.4 L108.5,419.3 L109.2,419.2 L109.8,419.3 L110.5,419.1 L111.2,418.6 L111.8,419.1 L112.5,418.8 L113.2,418.8 L113.9,419.0 L114.5,418.7 L115.2,418.9 L115.9,418.4 L116.5,418.3 L117.2,418.1 L117.9,418.2 L118.5,417.8 L119.2,418.1 L119.9,418.0 L120.5,417.9 L121.2,417.4 L121.9,417.4 L122.5,418.0 L123.2,417.5 L123.9,418.1 L124.6,417.5 L125.2,417.7 L125.9,417.2 L126.6,417.3 L127.2,417.4 L127.9,417.5 L128.6,417.7 L129.2,417.5 L129.9,416.8 L130.6,417.1 L131.2,417.0 L131.9,416.8 L132.6,417.1 L133.2,417.3 L133.9,416.7 L134.6,417.1 L135.3,417.1 L135.9,416.4 L136.6,417.0 L137.3,417.0 L137.9,416.6 L138.6,416.9 L139.3,416.4 L139.9,416.6 L140.6,416.4 L141.3,416.0 L141.9,416.2 L142.6,416.0 L143.3,415.9 L143.9,415.7 L144.6,415.7 L145.3,415.5 L146.0,416.1 L146.6,415.3 L147.3,415.7 L148.0,415.5 L148.6,415.3 L149.3,415.7 L150.0,415.3 L150.6,415.7 L151.3,415.3 L152.0,415.4 L152.6,415.2 L153.3,415.3 L154.0,415.4 L154.6,415.0 L155.3,415.0 L156.0,415.4 L156.7,414.8 L157.3,415.3 L158.0,414.7 L158.7,414.6 L159.3,414.3 L160.0,414.4 L160.7,414.1 L161.3,414.4 L162.0,414.6 L162.7,414.4 L163.3,414.2 L164.0,414.0 L164.7,414.1 L165.3,413.8 L166.0,413.8 L166.7,414.6 L167.4,414.1 L168.0,413.7 L168.7,414.1 L169.4,414.2 L170.0,413.6 L170.7,413.7 L171.4,413.4 L172.0,413.2 L172.7,413.9 L173.4,414.4 L174.0,413.3 L174.7,413.0 L175.4,413.7 L176.0,413.6 L176.7,413.4 L177.4,413.6 L178.1,413.1 L178.7,413.2 L179.4,413.2 L180.1,412.9 L180.7,413.1 L181.4,412.8 L182.1,413.0 L182.7,412.8 L183.4,412.2 L184.1,412.7 L184.7,412.3 L185.4,412.4 L186.1,412.1 L186.7,412.7 L187.4,412.3 L188.1,412.3 L188.8,412.6 L189.4,412.4 L190.1,412.2 L190.8,411.6 L191.4,412.3 L192.1,412.0 L192.8,411.9 L193.4,412.1 L194.1,411.7 L194.8,411.8 L195.4,412.0 L196.1,411.9 L196.8,411.5 L197.4,412.0 L198.1,411.9 L198.8,412.0 L199.5,411.5 L200.1,411.5 L200.8,411.6 L201.5,411.4 L202.1,411.3 L202.8,411.2 L203.5,411.1 L204.1,411.0 L204.8,410.9 L205.5,411.1 L206.1,410.9 L206.8,410.6 L207.5,410.9 L208.1,411.2 L208.8,411.1 L209.5,410.2 L210.2,410.5 L210.8,410.8 L211.5,410.6 L212.2,410.5 L212.8,410.4 L213.5,410.4 L214.2,410.1 L214.8,410.6 L215.5,410.0 L216.2,410.2 L216.8,410.6 L217.5,410.4 L218.2,410.1 L218.9,410.0 L219.5,409.8 L220.2,409.8 L220.9,409.8 L221.5,410.2 L222.2,409.7 L222.9,409.9 L223.5,409.8 L224.2,409.7 L224.9,409.5 L225.5,409.7 L226.2,409.5 L226.9,409.5 L227.5,409.3 L228.2,408.8 L228.9,409.5 L229.6,409.4 L230.2,409.1 L230.9,409.1 L231.6,409.2 L232.2,408.8 L232.9,409.2 L233.6,409.1 L234.2,409.1 L234.9,409.1 L235.6,408.3 L236.2,408.9 L236.9,408.6 L237.6,408.9 L238.2,408.9 L238.9,408.8 L239.6,408.5 L240.3,409.2 L240.9,408.4 L241.6,408.1 L242.3,408.6 L242.9,407.9 L243.6,408.7 L244.3,408.4 L244.9,408.5 L245.6,408.4 L246.3,408.2 L246.9,407.7 L247.6,407.8 L248.3,408.1 L248.9,407.8 L249.6,407.9 L250.3,407.6 L251.0,407.5 L251.6,407.8 L252.3,407.8 L253.0,407.6 L253.6,407.3 L254.3,407.1 L255.0,408.0 L255.6,407.1 L256.3,407.1 L257.0,407.1 L257.6,407.5 L258.3,407.0 L259.0,407.3 L259.6,407.2 L260.3,406.8 L261.0,407.1 L261.7,406.7 L262.3,406.9 L263.0,407.1 L263.7,406.8 L264.3,406.6 L265.0,406.7 L265.7,406.7 L266.3,406.7 L267.0,406.1 L267.7,406.1 L268.3,406.6 L269.0,406.5 L269.7,406.4 L270.3,406.4 L271.0,406.3 L271.7,406.2 L272.4,406.3 L273.0,406.4 L273.7,406.2 L274.4,406.1 L275.0,405.8 L275.7,406.1 L276.4,405.7 L277.0,405.8 L277.7,405.9 L278.4,405.9 L279.0,406.1 L279.7,406.0 L280.4,405.8 L281.0,405.6 L281.7,405.6 L282.4,405.5 L283.1,406.0 L283.7,405.6 L284.4,405.3 L285.1,405.2 L285.7,405.7 L286.4,405.1 L287.1,405.4 L287.7,405.3 L288.4,405.5 L289.1,404.9 L289.7,405.2 L290.4,405.1 L291.1,405.2 L291.7,405.3 L292.4,405.0 L293.1,404.8 L293.8,405.1 L294.4,404.4 L295.1,404.8 L295.8,404.5 L296.4,404.4 L297.1,404.2 L297.8,404.2 L298.4,404.7 L299.1,404.7 L299.8,404.5 L300.4,404.7 L301.1,404.4 L301.8,404.2 L302.4,404.0 L303.1,404.4 L303.8,404.4 L304.5,404.5 L305.1,403.9 L305.8,404.0 L306.5,403.7 L307.1,404.3 L307.8,404.1 L308.5,404.0 L309.1,403.9 L309.8,403.8 L310.5,403.7 L311.1,404.0 L311.8,403.5 L312.5,403.9 L313.1,403.7 L313.8,403.3 L314.5,403.2 L315.2,403.3 L315.8,403.4 L316.5,403.1 L317.2,403.5 L317.8,403.6 L318.5,403.4 L319.2,402.8 L319.8,402.6 L320.5,403.4 L321.2,403.5 L321.8,403.0 L322.5,403.1 L323.2,402.9 L323.9,402.8 L324.5,403.1 L325.2,402.7 L325.9,403.0 L326.5,403.2 L327.2,402.7 L327.9,403.2 L328.5,402.3 L329.2,402.8 L329.9,402.6 L330.5,403.2 L331.2,402.5 L331.9,402.2 L332.5,402.8 L333.2,402.0 L333.9,402.4 L334.6,402.1 L335.2,402.6 L335.9,402.2 L336.6,402.4 L337.2,402.1 L337.9,401.8 L338.6,401.5 L339.2,402.4 L339.9,402.0 L340.6,401.6 L341.2,401.8 L341.9,402.1 L342.6,401.4 L343.2,402.3 L343.9,401.7 L344.6,401.6 L345.3,402.0 L345.9,401.6 L346.6,401.3 L347.3,401.7 L347.9,401.6 L348.6,401.7 L349.3,401.2 L349.9,401.1 L350.6,401.5 L351.3,401.2 L351.9,400.7 L352.6,401.0 L353.3,401.3 L353.9,400.9 L354.6,401.4 L355.3,400.9 L356.0,401.0 L356.6,400.6 L357.3,400.7 L358.0,400.8 L358.6,401.0 L359.3,400.8 L360.0,401.0 L360.6,400.2 L361.3,400.7 L362.0,400.6 L362.6,400.3 L363.3,400.6 L364.0,400.3 L364.6,400.6 L365.3,400.4 L366.0,400.5 L366.7,400.1 L367.3,400.6 L368.0,400.4 L368.7,400.7 L369.3,400.2 L370.0,400.1 L370.7,400.2 L371.3,400.0 L372.0,399.8 L372.7,400.0 L373.3,400.0 L374.0,399.8 L374.7,399.8 L375.3,399.6 L376.0,399.9 L376.7,399.5 L377.4,400.2 L378.0,399.7 L378.7,399.9 L379.4,399.3 L380.0,399.7 L380.7,399.5 L381.4,399.8 L382.0,399.7 L382.7,399.0 L383.4,399.7 L384.0,399.0 L384.7,399.7 L385.4,399.3 L386.0,399.0 L386.7,399.4 L387.4,399.2 L388.1,398.9 L388.7,398.9 L389.4,399.2 L390.1,398.7 L390.7,398.8 L391.4,399.4 L392.1,398.7 L392.7,399.0 L393.4,399.0 L394.1,399.1 L394.7,399.0 L395.4,398.1 L396.1,398.6 L396.7,399.0 L397.4,398.4 L398.1,399.0 L398.8,398.6 L399.4,398.2 L400.1,398.6 L400.8,398.9 L401.4,398.2 L402.1,398.5 L402.8,398.1 L403.4,398.1 L404.1,398.3 L404.8,398.4 L405.4,398.3 L406.1,398.2 L406.8,398.7 L407.4,397.8 L408.1,397.6 L408.8,398.1 L409.5,398.0 L410.1,397.6 L410.8,398.3 L411.5,397.7 L412.1,397.5 L412.8,397.9 L413.5,397.9 L414.1,398.3 L414.8,397.3 L415.5,397.3 L416.1,397.5 L416.8,397.5 L417.5,397.5 L418.1,397.3 L418.8,397.1 L419.5,397.3 L420.2,397.6 L420.8,397.5 L421.5,397.1 L422.2,397.4 L422.8,397.3 L423.5,397.1 L424.2,397.1 L424.8,397.1 L425.5,397.8 L426.2,397.1 L426.8,396.8 L427.5,397.0 L428.2,396.8 L428.8,397.2 L429.5,396.3 L430.2,396.6 L430.9,397.0 L431.5,396.9 L432.2,396.8 L432.9,396.9 L433.5,396.3 L434.2,396.7" fill="none" stroke="#000" stroke-width="3.8" stroke-linejoin="round" stroke-linecap="round"/><path d="M97.8,421.3 L98.5,421.1 L99.1,421.3 L99.8,421.5 L100.5,421.2 L101.1,421.2 L101.8,420.7 L102.5,420.9 L103.2,420.8 L103.8,421.0 L104.5,420.9 L105.2,420.7 L105.8,420.6 L106.5,420.9 L107.2,420.6 L107.8,421.1 L108.5,420.8 L109.2,420.6 L109.8,420.9 L110.5,420.3 L111.2,420.8 L111.8,420.4 L112.5,420.7 L113.2,420.3 L113.9,420.2 L114.5,419.9 L115.2,420.4 L115.9,420.4 L116.5,419.9 L117.2,420.7 L117.9,420.2 L118.5,419.9 L119.2,420.6 L119.9,420.0 L120.5,420.4 L121.2,419.3 L121.9,420.5 L122.5,420.0 L123.2,419.9 L123.9,420.0 L124.6,419.5 L125.2,420.0 L125.9,419.9 L126.6,419.8 L127.2,419.5 L127.9,419.4 L128.6,419.7 L129.2,419.8 L129.9,419.6 L130.6,419.5 L131.2,419.3 L131.9,419.6 L132.6,419.8 L133.2,419.3 L133.9,419.1 L134.6,419.9 L135.3,418.9 L135.9,419.3 L136.6,419.2 L137.3,419.5 L137.9,419.1 L138.6,418.7 L139.3,418.8 L139.9,419.0 L140.6,419.0 L141.3,418.8 L141.9,418.8 L142.6,418.5 L143.3,418.5 L143.9,418.7 L144.6,418.6 L145.3,418.7 L146.0,418.4 L146.6,419.1 L147.3,418.2 L148.0,418.8 L148.6,418.7 L149.3,418.9 L150.0,418.9 L150.6,418.1 L151.3,418.5 L152.0,418.6 L152.6,418.6 L153.3,418.5 L154.0,418.2 L154.6,418.6 L155.3,418.2 L156.0,418.1 L156.7,418.2 L157.3,418.0 L158.0,417.9 L158.7,418.1 L159.3,418.7 L160.0,418.1 L160.7,418.0 L161.3,417.8 L162.0,418.0 L162.7,417.6 L163.3,418.0 L164.0,417.9 L164.7,417.8 L165.3,417.9 L166.0,417.6 L166.7,417.8 L167.4,417.8 L168.0,417.7 L168.7,417.6 L169.4,417.8 L170.0,417.4 L170.7,417.8 L171.4,417.4 L172.0,417.7 L172.7,417.4 L173.4,417.3 L174.0,417.0 L174.7,417.4 L175.4,417.3 L176.0,417.2 L176.7,417.3 L177.4,417.2 L178.1,416.9 L178.7,416.8 L179.4,417.2 L180.1,417.0 L180.7,417.4 L181.4,417.5 L182.1,417.1 L182.7,417.0 L183.4,417.0 L184.1,416.8 L184.7,416.6 L185.4,416.1 L186.1,416.9 L186.7,416.8 L187.4,416.6 L188.1,416.6 L188.8,416.8 L189.4,416.8 L190.1,416.6 L190.8,416.4 L191.4,416.6 L192.1,416.6 L192.8,416.9 L193.4,416.1 L194.1,416.4 L194.8,416.1 L195.4,416.1 L196.1,416.8 L196.8,416.1 L197.4,416.1 L198.1,416.0 L198.8,416.3 L199.5,416.0 L200.1,415.6 L200.8,416.0 L201.5,416.2 L202.1,415.9 L202.8,415.9 L203.5,415.7 L204.1,415.6 L204.8,415.8 L205.5,415.5 L206.1,415.6 L206.8,415.5 L207.5,415.6 L208.1,415.9 L208.8,415.6 L209.5,415.9 L210.2,415.6 L210.8,415.5 L211.5,415.3 L212.2,415.5 L212.8,415.1 L213.5,415.6 L214.2,415.0 L214.8,415.0 L215.5,415.1 L216.2,414.8 L216.8,415.3 L217.5,415.0 L218.2,415.1 L218.9,415.3 L219.5,414.5 L220.2,415.0 L220.9,415.1 L221.5,415.3 L222.2,415.0 L222.9,414.8 L223.5,415.2 L224.2,415.1 L224.9,415.4 L225.5,415.4 L226.2,414.8 L226.9,415.1 L227.5,414.8 L228.2,414.5 L228.9,414.9 L229.6,415.0 L230.2,414.0 L230.9,414.9 L231.6,414.4 L232.2,415.0 L232.9,414.6 L233.6,414.5 L234.2,414.8 L234.9,414.3 L235.6,414.9 L236.2,414.1 L236.9,414.2 L237.6,414.0 L238.2,414.4 L238.9,414.2 L239.6,414.4 L240.3,414.5 L240.9,414.4 L241.6,414.4 L242.3,414.4 L242.9,414.0 L243.6,413.8 L244.3,413.7 L244.9,414.2 L245.6,413.8 L246.3,413.7 L246.9,413.7 L247.6,413.8 L248.3,413.9 L248.9,413.7 L249.6,413.5 L250.3,413.9 L251.0,413.1 L251.6,413.6 L252.3,413.9 L253.0,413.7 L253.6,413.9 L254.3,413.6 L255.0,413.7 L255.6,413.5 L256.3,413.3 L257.0,413.5 L257.6,413.6 L258.3,412.9 L259.0,413.1 L259.6,412.8 L260.3,413.0 L261.0,412.9 L261.7,413.1 L262.3,413.1 L263.0,413.4 L263.7,413.4 L264.3,412.9 L265.0,412.9 L265.7,413.2 L266.3,412.9 L267.0,412.9 L267.7,412.5 L268.3,413.1 L269.0,413.0 L269.7,412.6 L270.3,412.5 L271.0,412.5 L271.7,412.9 L272.4,412.6 L273.0,412.4 L273.7,412.6 L274.4,412.9 L275.0,413.0 L275.7,413.0 L276.4,412.6 L277.0,412.6 L277.7,412.6 L278.4,412.7 L279.0,412.6 L279.7,412.2 L280.4,412.2 L281.0,412.3 L281.7,412.6 L282.4,412.2 L283.1,412.1 L283.7,412.6 L284.4,412.6 L285.1,412.0 L285.7,412.2 L286.4,412.5 L287.1,412.1 L287.7,412.4 L288.4,411.7 L289.1,412.0 L289.7,412.2 L290.4,412.4 L291.1,412.2 L291.7,411.6 L292.4,411.5 L293.1,411.7 L293.8,412.1 L294.4,412.0 L295.1,412.1 L295.8,412.0 L296.4,411.6 L297.1,411.6 L297.8,411.5 L298.4,411.9 L299.1,411.3 L299.8,411.7 L300.4,411.7 L301.1,411.9 L301.8,411.4 L302.4,411.6 L303.1,411.2 L303.8,411.7 L304.5,411.4 L305.1,411.3 L305.8,411.2 L306.5,411.2 L307.1,411.2 L307.8,411.2 L308.5,411.6 L309.1,411.0 L309.8,411.3 L310.5,411.4 L311.1,410.9 L311.8,410.6 L312.5,411.2 L313.1,410.7 L313.8,410.9 L314.5,411.0 L315.2,411.1 L315.8,410.9 L316.5,410.8 L317.2,411.2 L317.8,411.0 L318.5,411.4 L319.2,410.6 L319.8,410.8 L320.5,410.8 L321.2,410.9 L321.8,410.8 L322.5,410.7 L323.2,411.2 L323.9,410.6 L324.5,410.8 L325.2,410.7 L325.9,410.5 L326.5,410.8 L327.2,410.1 L327.9,410.8 L328.5,410.1 L329.2,410.4 L329.9,410.5 L330.5,410.3 L331.2,410.3 L331.9,410.7 L332.5,411.0 L333.2,410.6 L333.9,410.3 L334.6,410.1 L335.2,410.1 L335.9,410.5 L336.6,410.4 L337.2,410.5 L337.9,410.4 L338.6,410.5 L339.2,409.9 L339.9,409.9 L340.6,409.8 L341.2,410.0 L341.9,409.9 L342.6,410.0 L343.2,409.6 L343.9,410.0 L344.6,410.1 L345.3,409.9 L345.9,409.2 L346.6,409.8 L347.3,409.7 L347.9,410.0 L348.6,409.7 L349.3,409.9 L349.9,409.6 L350.6,409.8 L351.3,409.9 L351.9,409.6 L352.6,409.7 L353.3,409.6 L353.9,409.7 L354.6,409.5 L355.3,409.6 L356.0,409.0 L356.6,409.4 L357.3,409.6 L358.0,409.6 L358.6,409.1 L359.3,409.1 L360.0,409.4 L360.6,409.4 L361.3,409.4 L362.0,409.3 L362.6,409.3 L363.3,409.5 L364.0,408.9 L364.6,408.8 L365.3,409.4 L366.0,408.9 L366.7,409.3 L367.3,408.9 L368.0,408.8 L368.7,409.4 L369.3,409.0 L370.0,408.6 L370.7,408.9 L371.3,408.9 L372.0,408.8 L372.7,408.9 L373.3,408.5 L374.0,408.7 L374.7,408.9 L375.3,408.9 L376.0,408.8 L376.7,408.5 L377.4,408.2 L378.0,409.0 L378.7,408.4 L379.4,408.5 L380.0,408.6 L380.7,408.7 L381.4,408.5 L382.0,408.3 L382.7,408.5 L383.4,409.0 L384.0,409.1 L384.7,408.4 L385.4,408.6 L386.0,407.9 L386.7,408.4 L387.4,408.5 L388.1,408.2 L388.7,408.8 L389.4,408.5 L390.1,408.4 L390.7,407.6 L391.4,408.0 L392.1,408.4 L392.7,408.0 L393.4,407.7 L394.1,408.0 L394.7,408.5 L395.4,408.2 L396.1,408.3 L396.7,408.1 L397.4,408.4 L398.1,407.3 L398.8,407.7 L399.4,408.4 L400.1,408.2 L400.8,407.9 L401.4,407.8 L402.1,407.4 L402.8,407.7 L403.4,407.8 L404.1,407.5 L404.8,408.1 L405.4,408.0 L406.1,407.6 L406.8,407.9 L407.4,407.6 L408.1,407.7 L408.8,407.5 L409.5,408.2 L410.1,407.2 L410.8,407.5 L411.5,407.8 L412.1,407.8 L412.8,407.1 L413.5,407.2 L414.1,407.4 L414.8,407.2 L415.5,407.2 L416.1,407.3 L416.8,407.3 L417.5,407.6 L418.1,406.9 L418.8,407.5 L419.5,407.2 L420.2,407.4 L420.8,407.1 L421.5,407.8 L422.2,406.7 L422.8,407.4 L423.5,407.0 L424.2,407.0 L424.8,407.4 L425.5,407.0 L426.2,407.3 L426.8,407.4 L427.5,406.8 L428.2,407.5 L428.8,407.3 L429.5,406.9 L430.2,407.0 L430.9,406.7 L431.5,406.9 L432.2,407.1 L432.9,407.1 L433.5,406.9 L434.2,406.6" fill="none" stroke="#000" stroke-width="3.8" stroke-linejoin="round" stroke-linecap="round"/><path d="M97.6,419.5V427.2M95.8,421.4H99.6" fill="none" stroke="#000" stroke-width="2" stroke-linecap="round"/><path d="M109.8,356.6v-4.2M124.5,315.3v-2.1M135.2,292.5v3.2M135.9,291.2v2.6M142.6,278.9v-3.1M143.3,277.9v2.1M146.6,272.3v-2.1M148.6,268.6v2.5M155.3,258.6v2.2M158.0,255.3v-2.8M162.7,248.3v2.1M167.3,241.9v2.3M168.0,240.7v-2.1M170.7,237.2v-4.2M184.1,221.3v-2.2M212.2,191.1v-3.0M216.8,186.2v-3.6M235.6,169.1v3.3M237.6,167.0v2.5M248.3,157.5v-2.7M252.9,153.8v-2.5M254.3,152.7v-2.3M255.6,151.7v2.1M256.3,151.2v2.5M262.3,146.5v2.4M265.0,144.4v-4.1M267.7,142.2v-2.8M278.4,134.0v2.9M283.7,130.1v-2.4M285.0,129.3v3.2M287.7,126.8v2.1M296.4,120.6v-2.0M300.4,119.1v2.9M306.4,114.6v2.0M311.1,111.1v-3.0M315.8,107.5v2.0M319.8,105.9v-2.2M340.5,93.5v-2.6M344.6,91.1v2.5M351.9,87.2v2.1M353.9,85.6v-2.1M366.0,79.3v2.0M376.0,74.4v2.1M378.7,73.1v-2.0M381.3,71.6v2.6M402.1,62.4v2.6M404.1,61.0v-4.2M414.1,57.5v2.5M418.1,55.8v-2.0M422.1,53.6v3.5M422.8,53.7v-2.6M107.2,407.5v-2.2M113.2,401.6v4.2M120.5,394.4v-4.2M121.9,393.4v2.3M123.9,391.7v2.0M137.3,380.5v2.1M137.9,380.3v-4.2M144.0,375.2v-2.7M147.3,372.8v2.2M154.7,367.6v2.8M155.3,367.5v3.0M164.7,360.6v2.3M166.0,359.7v-2.2M176.1,353.6v2.8M179.4,351.6v3.3M184.1,348.4v2.9M185.4,347.8v2.1M194.8,342.5v-4.2M199.5,339.9v2.2M202.8,337.6v-2.5M217.5,330.1v-2.4M228.9,324.0v-4.1M230.3,323.2v2.5M239.6,319.3v4.2M245.6,315.9v-4.1M248.3,315.0v-4.2M256.3,311.1v-2.7M263.7,307.0v2.2M269.1,304.7v-4.2M271.1,304.2v-2.4M279.8,300.7v2.5M281.8,299.4v2.1M291.8,295.0v-2.6M301.8,291.8v2.6M310.5,287.7v-2.1M312.5,287.1v2.2M316.6,285.7v2.0M320.6,283.9v2.4M322.6,283.0v3.0M323.9,282.7v-3.3M327.3,281.7v3.8M330.6,280.2v-2.2M331.9,280.2v-2.8M334.6,278.7v3.9M340.0,276.7v-2.2M344.0,275.8v-2.5M346.7,274.6v-3.2M348.0,274.1v-3.0M354.0,272.1v-2.3M360.7,269.9v-3.2M368.7,267.3v2.5M370.1,266.4v2.2M372.8,265.8v-2.8M373.4,265.6v4.2M375.4,265.3v-2.7M376.1,264.6v3.4M386.1,261.5v2.7M387.5,261.1v-2.5M388.1,260.9v4.2M394.2,258.8v2.1M406.2,255.3v3.3M408.9,254.3v-2.0M415.6,252.4v3.3M418.2,251.8v-3.4M420.9,251.5v-2.9M103.2,420.0v-2.6M105.2,417.9v-3.5M117.2,413.5v3.4M120.5,412.2v-2.9M123.2,411.6v2.6M125.2,410.6v-2.7M128.6,409.0v-3.1M131.9,407.6v-2.1M133.2,407.7v2.4M141.9,404.1v2.1M148.0,401.5v-2.6M149.3,401.6v-2.7M152.0,401.0v-2.5M154.0,399.9v3.1M155.3,399.2v-2.2M158.0,398.6v3.7M173.4,393.7v2.3M180.1,391.2v-2.6M180.7,390.7v-2.4M181.4,391.4v-2.7M182.1,390.7v3.2M182.7,390.3v3.9M186.1,389.4v2.2M192.1,387.6v3.2M192.8,387.0v4.2M198.1,385.5v-2.3M200.1,384.8v2.4M200.8,384.9v4.1M222.2,378.0v-2.6M224.9,377.5v-2.2M239.6,373.5v4.0M241.6,372.7v-3.1M244.9,372.5v-3.3M250.3,370.7v-2.2M255.6,368.6v-2.2M259.0,368.1v-2.4M267.0,365.4v3.2M267.7,366.0v2.2M272.4,364.6v3.1M277.0,363.4v2.5M280.4,362.4v3.9M282.4,361.6v-2.5M287.7,360.9v-2.7M290.4,360.1v-2.2M291.7,359.4v-2.1M297.1,358.6v2.8M297.8,358.8v-2.7M300.4,357.7v-3.0M303.8,356.6v2.1M309.1,355.4v2.2M311.8,355.1v2.8M313.8,354.7v-2.3M323.2,352.3v-3.0M323.9,352.4v4.2M325.9,352.3v-2.8M333.9,350.4v-2.2M355.3,345.6v-2.9M356.0,345.5v2.4M360.0,344.3v2.2M360.6,345.0v-2.6M376.7,341.2v3.9M382.0,340.9v-2.5M388.1,339.6v2.5M393.4,338.4v3.0M394.7,338.6v-2.5M395.4,338.2v3.4M398.8,337.0v-4.2M402.8,337.4v-3.4M404.1,336.8v-2.1M412.8,335.1v-2.5M420.2,333.3v-2.5M420.8,333.3v-4.2M421.5,333.7v-2.4M423.5,333.6v-2.9M425.5,333.0v-2.9M103.8,417.8v-2.5M109.8,417.8v3.1M117.9,416.1v4.0M121.2,415.7v4.3M127.9,414.8v-3.4M129.9,414.3v-3.6M131.2,414.1v-2.7M136.6,413.5v-2.7M137.3,413.6v3.0M150.6,411.6v2.9M153.3,410.9v2.8M162.0,409.4v2.2M166.0,409.2v3.1M166.7,408.4v2.7M178.7,407.1v3.0M180.1,406.7v3.0M191.4,405.2v3.1M192.8,405.5v3.0M197.4,404.3v-3.6M198.8,404.3v3.0M199.5,404.5v-2.6M210.2,402.5v-3.4M210.8,402.8v4.4M212.2,402.5v-2.5M236.9,399.4v2.9M248.9,397.6v3.3M249.6,397.7v-2.8M255.6,396.5v-2.6M259.0,397.0v-2.7M262.3,395.8v3.7M265.0,395.7v-2.8M266.3,395.8v-2.8M277.0,394.4v3.5M279.7,394.2v3.3M284.4,393.1v3.3M293.1,392.6v2.5M294.4,393.0v2.9M295.8,391.9v4.0M301.1,391.2v4.4M315.2,390.2v2.5M316.5,389.8v2.8M326.5,388.8v-2.6M329.9,388.1v-3.0M339.2,387.1v-2.3M340.6,387.1v4.1M346.6,386.6v2.3M347.9,386.5v3.2M354.6,385.9v-3.2M358.0,384.9v2.7M362.0,384.9v3.5M363.3,385.0v-4.4M366.7,384.2v2.6M367.3,384.4v2.6M371.3,384.1v-2.4M372.0,383.7v3.9M379.4,382.7v-3.5M385.4,382.3v4.4M387.4,382.0v2.8M388.7,382.1v-4.4M390.1,381.6v3.0M391.4,382.0v2.4M392.1,381.9v4.4M401.4,381.2v-2.3M403.4,380.6v-4.4M406.1,380.4v3.3M417.5,379.0v2.4M420.2,379.0v2.4M422.2,378.6v2.7M426.2,378.6v2.8M426.8,378.2v2.4M430.2,377.8v-2.8M434.2,377.7v2.3M101.8,419.4v2.9M103.2,419.8v4.1M105.2,419.0v-2.4M111.2,418.6v2.8M121.2,417.4v3.3M127.2,417.4v2.4M128.6,417.7v-2.6M135.3,417.1v-2.4M143.9,415.7v-3.2M146.6,415.3v-3.1M157.3,415.3v2.4M162.7,414.4v-2.8M165.3,413.8v3.0M168.0,413.7v-3.2M171.4,413.4v3.0M172.0,413.2v-4.0M179.4,413.2v2.4M186.1,412.1v3.3M188.1,412.3v-2.6M188.8,412.6v2.3M193.4,412.1v3.9M201.5,411.4v2.2M202.8,411.2v-2.8M205.5,411.1v3.4M207.5,410.9v-3.9M209.5,410.2v2.3M213.5,410.4v2.5M214.8,410.6v4.0M219.5,409.8v-3.1M220.2,409.8v-2.5M225.5,409.7v3.5M228.2,408.8v2.8M228.9,409.5v-2.4M232.2,408.8v-2.6M234.2,409.1v3.8M238.2,408.9v2.3M239.6,408.5v3.1M241.6,408.1v-2.3M242.9,407.9v2.9M244.9,408.5v3.1M257.0,407.1v4.4M257.6,407.5v-2.2M259.0,407.3v3.4M261.0,407.1v3.3M265.7,406.7v3.4M268.3,406.6v3.2M269.7,406.4v-3.8M273.7,406.2v-2.3M277.0,405.8v-3.3M281.7,405.6v3.1M283.7,405.6v-2.7M293.1,404.8v2.6M299.1,404.7v-3.1M307.8,404.1v-2.6M310.5,403.7v-4.4M311.1,404.0v-2.6M316.5,403.1v2.7M322.5,403.1v3.0M327.2,402.7v3.5M329.2,402.8v2.2M330.5,403.2v-2.4M331.9,402.2v2.3M332.5,402.8v-2.2M335.2,402.6v3.9M336.6,402.4v-4.4M339.9,402.0v-2.2M341.2,401.8v3.6M348.6,401.7v3.7M351.9,400.7v2.5M353.3,401.3v2.7M354.6,401.4v2.8M355.3,400.9v-2.4M356.0,401.0v2.5M357.3,400.7v2.2M362.0,400.6v3.0M364.6,400.6v2.3M368.7,400.7v2.5M369.3,400.2v-3.8M375.3,399.6v2.3M376.0,399.9v2.4M386.0,399.0v-3.9M387.4,399.2v4.4M398.8,398.6v2.2M402.8,398.1v2.8M406.1,398.2v-2.3M406.8,398.7v3.1M410.1,397.6v4.4M413.5,397.9v-3.3M415.5,397.3v-2.4M417.5,397.5v-2.3M420.8,397.5v-3.7M421.5,397.1v-3.5M424.8,397.1v3.4M429.5,396.3v-3.3M433.5,396.3v-3.6M110.5,420.3v2.2M113.2,420.3v-2.6M115.9,420.4v-2.2M117.9,420.2v4.4M125.2,420.0v3.3M129.2,419.8v-2.3M130.6,419.5v3.1M131.2,419.3v2.3M133.9,419.1v-2.3M135.3,418.9v-4.1M136.6,419.2v3.3M137.9,419.1v2.9M140.6,419.0v2.3M141.9,418.8v-2.5M145.3,418.7v-2.8M150.6,418.1v-4.4M153.3,418.5v-2.2M155.3,418.2v-2.5M156.7,418.2v-2.4M158.0,417.9v-2.7M162.0,418.0v-2.4M163.3,418.0v3.4M165.3,417.9v2.6M166.0,417.6v-3.9M167.4,417.8v-2.6M170.0,417.4v2.3M180.7,417.4v2.5M182.7,417.0v2.3M184.1,416.8v-4.1M184.7,416.6v-2.8M186.1,416.9v2.2M187.4,416.6v-3.3M188.1,416.6v2.4M192.8,416.9v-2.4M197.4,416.1v-3.1M202.1,415.9v-2.7M204.1,415.6v4.0M205.5,415.5v2.3M208.1,415.9v-2.3M210.8,415.5v2.5M215.5,415.1v2.5M218.9,415.3v-3.1M221.5,415.3v4.4M223.5,415.2v-2.6M225.5,415.4v-2.4M230.2,414.0v2.9M230.9,414.9v3.2M235.6,414.9v-2.3M236.2,414.1v-2.5M236.9,414.2v2.7M248.9,413.7v2.8M270.3,412.5v2.9M271.7,412.9v-3.1M279.0,412.6v2.3M285.1,412.0v-2.3M286.4,412.5v-2.7M293.1,411.7v3.0M298.4,411.9v-2.7M305.1,411.3v3.3M305.8,411.2v3.0M319.8,410.8v-2.8M321.8,410.8v-2.6M323.9,410.6v-3.1M325.2,410.7v2.7M331.2,410.3v3.2M333.2,410.6v3.9M337.9,410.4v-2.8M338.6,410.5v4.4M339.9,409.9v2.9M345.9,409.2v2.4M346.6,409.8v2.5M348.6,409.7v3.2M350.6,409.8v3.1M361.3,409.4v-2.6M364.6,408.8v-4.4M365.3,409.4v3.0M374.7,408.9v3.0M386.7,408.4v3.9M387.4,408.5v3.0M390.7,407.6v3.6M397.4,408.4v-2.4M404.1,407.5v-3.8M408.8,407.5v2.3M409.5,408.2v-2.2M410.8,407.5v3.4M411.5,407.8v2.4M413.5,407.2v4.4M416.1,407.3v2.2M418.1,406.9v2.2M426.8,407.4v-2.3M428.2,407.5v2.7M432.2,407.1v-2.5M432.9,407.1v-2.8" fill="none" stroke="#000" stroke-width="1.3" stroke-linecap="round"/><text x="438.8" y="52.6" class="cl">220 nM</text><text x="438.8" y="252.9" class="cl">110 nM</text><text x="438.8" y="337.2" class="cl">55 nM</text><text x="438.8" y="382" class="cl">28 nM</text><text x="438.8" y="402.9" class="cl">14 nM</text><text x="438.8" y="418" class="cl">7 nM</text><text x="301.5" y="505" text-anchor="middle" class="ax">Time (Seconds)</text><text transform="translate(17,219) rotate(-90)" text-anchor="middle" class="ay">Relative Response (Arc seconds)</text><path fill="#000" fill-rule="evenodd" d="M23,469.6L30,469.6L38.5,495.5L32.2,495.5L30.4,489.4L22,489.4L20.1,495.5L14.1,495.5Z M26.3,476.6L29.3,486.3L23.1,486.3Z"/></svg>
</body></html>
